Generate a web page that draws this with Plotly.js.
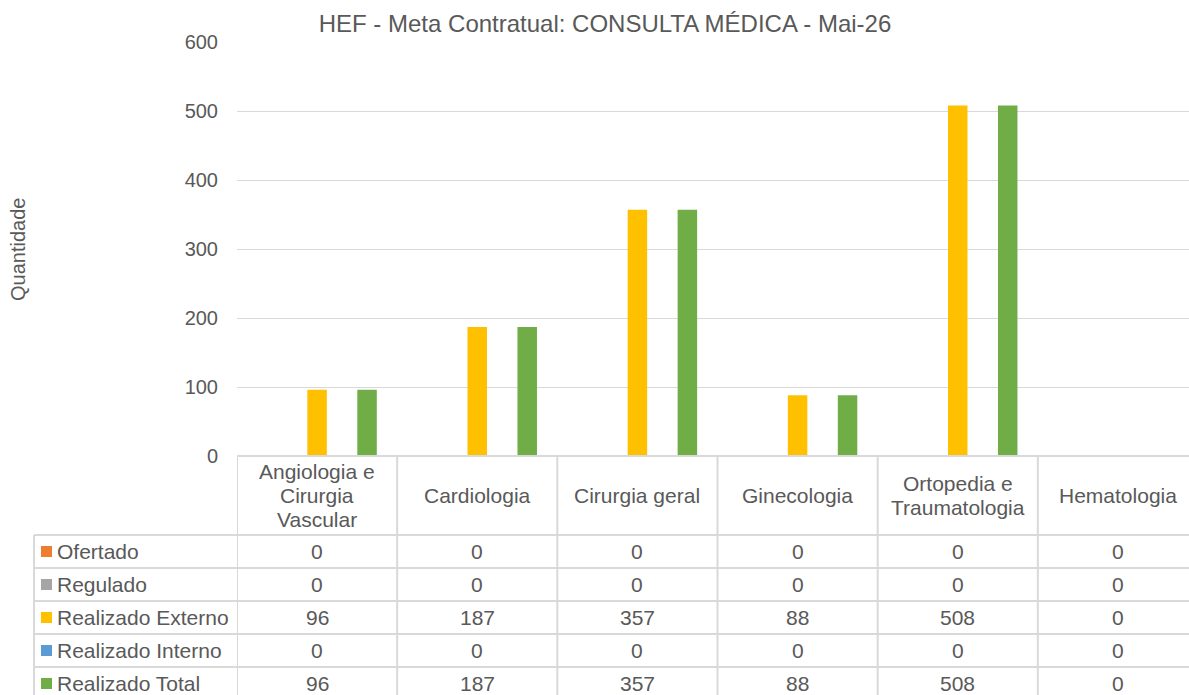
<!DOCTYPE html>
<html><head><meta charset="utf-8">
<script src="https://cdn.plot.ly/plotly-3.0.1.min.js"></script>
<style>
html,body{margin:0;padding:0;overflow:hidden;background:#fff}
</style>
</head><body><div id="chart"></div>
<script>
const categories = ['Angiologia e Cirurgia Vascular','Cardiologia','Cirurgia geral','Ginecologia','Ortopedia e Traumatologia','Hematologia'];
const categoryLabels = ['Angiologia e<br>Cirurgia<br>Vascular','Cardiologia','Cirurgia geral','Ginecologia','Ortopedia e<br>Traumatologia','Hematologia'];
const seriesNames = ['Ofertado','Regulado','Realizado Externo','Realizado Interno','Realizado Total'];
const ofertado = [0,0,0,0,0,0];
const regulado = [0,0,0,0,0,0];
const realizadoExterno = [96,187,357,88,508,0];
const realizadoInterno = [0,0,0,0,0,0];
const realizadoTotal = [96,187,357,88,508,0];
const colors = ['#ED7D31','#A5A5A5','#FFC000','#5B9BD5','#70AD47'];
const yTicks = [0,100,200,300,400,500,600];

const series = [ofertado, regulado, realizadoExterno, realizadoInterno, realizadoTotal];
const W = 1198, H = 695, L = 237, T = 42, B = 456;
const PW = W - L, PH = B - T;
const px = p => (p - L) / PW;
const py = p => (B - p) / PH;
const txt = '#595959', grid = '#D9D9D9';
const fam = 'Liberation Sans, Arial, sans-serif';
const font = {family: fam, size: 21, color: txt};

const traces = series.map((s, i) => ({
  type: 'bar', name: seriesNames[i], x: categories, y: s,
  marker: {color: colors[i]}, hoverinfo: 'x+y+name'
}));

const shapes = [], annotations = [];
shapes.push({type:'line', xref:'paper', yref:'paper', x0:0, x1:1, y0:py(456), y1:py(456), line:{color:grid, width:2}});
const rowLines = [535,568,601,634,667,700];
rowLines.forEach(r => shapes.push({type:'line', xref:'paper', yref:'paper', x0:px(34), x1:1, y0:py(r), y1:py(r), line:{color:grid, width:2}}));
for (let i = 0; i <= categories.length; i++) {
  shapes.push({type:'line', xref:'x', yref:'paper', x0:i-0.5, x1:i-0.5, y0:py(456), y1:py(700), line:{color:grid, width:2}});
}
shapes.push({type:'line', xref:'paper', yref:'paper', x0:px(34), x1:px(34), y0:py(535), y1:py(700), line:{color:grid, width:2}});

categoryLabels.forEach((c, i) => {
  const lines = c.split('<br>');
  lines.forEach((ln, k) => {
    const yc = 495.5 + (k - (lines.length - 1) / 2) * 24;
    annotations.push({xref:'x', yref:'paper', x:i, y:py(yc), text:ln, showarrow:false, xanchor:'center', yanchor:'middle', font:font});
  });
});
const rowCenters = [551.5,584.5,617.5,650.5,683.5];
series.forEach((s, r) => {
  const yc = rowCenters[r];
  shapes.push({type:'rect', xref:'paper', yref:'paper', x0:px(41), x1:px(52), y0:py(yc-5.5), y1:py(yc+5.5), fillcolor:colors[r], line:{width:0}});
  annotations.push({xref:'paper', yref:'paper', x:px(55), y:py(yc), text:seriesNames[r], showarrow:false, xanchor:'left', yanchor:'middle', font:font});
  s.forEach((v, i) => annotations.push({xref:'x', yref:'paper', x:i, y:py(yc), text:String(v), showarrow:false, xanchor:'center', yanchor:'middle', font:font}));
});
annotations.push({xref:'paper', yref:'paper', x:px(18), y:py(250), text:'Quantidade', textangle:-90, showarrow:false, xanchor:'center', yanchor:'middle', font:{family:fam, size:20, color:txt}});

const layout = {
  width: W, height: H,
  margin: {l: L, r: 0, t: T, b: H - B, pad: 0},
  paper_bgcolor: '#fff', plot_bgcolor: '#fff',
  title: {text: 'HEF - Meta Contratual: CONSULTA MÉDICA - Mai-26', font: {family: fam, size: 24, color: txt}, xref: 'container', x: 605 / W, xanchor: 'center', yref: 'container', y: 1 - 24 / H, yanchor: 'middle'},
  barmode: 'group', bargap: 0.22, bargroupgap: 0.22,
  showlegend: false,
  xaxis: {type: 'category', range: [-0.5, 5.5], showticklabels: false, ticks: '', showgrid: false, showline: false, zeroline: false, fixedrange: true},
  yaxis: {range: [0, 600], tickvals: yTicks, ticktext: yTicks.map(String), showgrid: true, gridcolor: grid, gridwidth: 1, zeroline: false, showline: false, ticks: '', ticklabelstandoff: 18, tickfont: {family: fam, size: 20, color: txt}, fixedrange: true},
  shapes: shapes, annotations: annotations,
  font: font
};
Plotly.newPlot('chart', traces, layout, {displayModeBar: false, staticPlot: true});
</script></body></html>
